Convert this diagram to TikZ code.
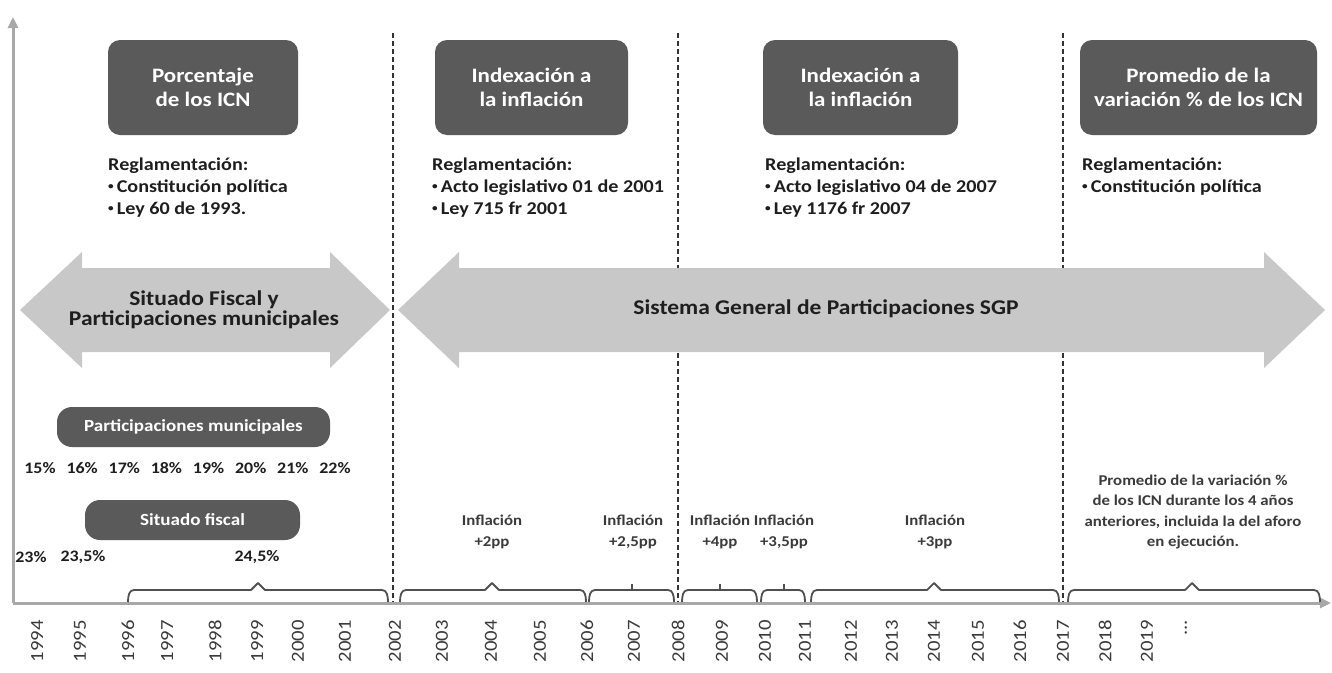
\documentclass[tikz,border=0pt]{standalone}
\usepackage{fontspec}
\setmainfont{Carlito}[FakeStretch=1.12]
\usetikzlibrary{arrows.meta}
\definecolor{boxgray}{HTML}{5A5A5A}
\definecolor{arrgray}{HTML}{C8C8C8}
\definecolor{axisgray}{HTML}{A8A8A8}
\definecolor{txt}{HTML}{1E1E1E}
\definecolor{midtxt}{HTML}{3A3A3A}
\definecolor{bracecol}{HTML}{505050}
\definecolor{dashcol}{HTML}{333333}
\newcommand\smbul{\raisebox{0.18em}{\fontsize{10}{10}\selectfont\textbullet}\,}
\newcommand\yrbrace[3]{%
  \draw[bracestyle] (#1,602) .. controls (#1,596) and (#1+1,590) .. (#1+6,590) -- (#2-7,590) -- (#2,583) -- (#2+7,590) -- (#3-6,590) .. controls (#3-1,590) and (#3,596) .. (#3,602);}
\newcommand\yrtick[3]{%
  \draw[bracestyle] (#1,602) .. controls (#1,596) and (#1+1,590) .. (#1+6,590) -- (#3-6,590) .. controls (#3-1,590) and (#3,596) .. (#3,602);
  \draw[bracestyle] (#2,590) -- (#2,584);}
\begin{document}
\begin{tikzpicture}[x=1pt,y=-1pt,
  darkbox/.style={fill=boxgray, rounded corners=12pt, text=white, font=\fontsize{20.5}{24}\selectfont\bfseries, align=center, minimum height=95pt, inner sep=0pt},
  pill/.style={fill=boxgray, rounded corners=15pt, text=white, font=\fontsize{17}{20}\selectfont\bfseries, minimum height=40pt, inner sep=0pt},
  regl/.style={anchor=north west, align=left, inner sep=0pt, text=txt, font=\fontsize{18}{22}\selectfont\bfseries},
  bigarrow/.style={fill=arrgray},
  arrowtext/.style={text=txt, align=center, inner sep=0pt, font=\fontsize{21}{20}\selectfont\bfseries},
  pct/.style={text=txt, inner sep=0pt, font=\fontsize{16}{18}\selectfont\bfseries},
  infl/.style={text=midtxt, align=center, inner sep=0pt, font=\fontsize{15}{20.5}\selectfont\bfseries},
  yearlbl/.style={text=midtxt, rotate=90, anchor=east, inner sep=0pt, font=\fontsize{18.5}{20}\selectfont},
  axisline/.style={draw=axisgray, line width=3pt, -{Triangle[length=11pt,width=10pt]}},
  divider/.style={draw=dashcol, line width=1.6pt, dash pattern=on 5pt off 3pt},
  bracestyle/.style={draw=bracecol, line width=1.8pt, line join=round}
]
\useasboundingbox (0,0) rectangle (1332,672);

% dividers
\foreach \x/\n in {393/a,678/b,1063/c}{
  \coordinate (dt\n) at (\x,33);
  \coordinate (db\n) at (\x,603);
  \draw[divider] (dt\n) -- (db\n);
}

% axes
\coordinate (orig) at (13,603);
\coordinate (ytop) at (13,17);
\coordinate (xend) at (1331,603);
\draw[axisline] (orig) -- (ytop);
\draw[axisline] (orig) -- (xend);

% top boxes
\node[darkbox, minimum width=190pt] (b1) at (203,87.5) {Porcentaje\\de los ICN};
\node[darkbox, minimum width=193pt] (b2) at (531.5,87.5) {Indexación a\\la inflación};
\node[darkbox, minimum width=195pt] (b3) at (860.5,87.5) {Indexación a\\la inflación};
\node[darkbox, minimum width=237pt] (b4) at (1198.5,87.5) {Promedio de la\\variación \% de los ICN};

% regulations
\node[regl] (r1) at (108,158) {Reglamentación:\\\smbul Constitución política\\\smbul Ley 60 de 1993.};
\node[regl] (r2) at (432,158) {Reglamentación:\\\smbul Acto legislativo 01 de 2001\\\smbul Ley 715 fr 2001};
\node[regl] (r3) at (765,158) {Reglamentación:\\\smbul Acto legislativo 04 de 2007\\\smbul Ley 1176 fr 2007};
\node[regl] (r4) at (1082,158) {Reglamentación:\\\smbul Constitución política};

% big double arrows
\fill[bigarrow] (20,310) -- (82,252) -- (82,268) -- (330,268) -- (330,252) -- (390,310) -- (330,368) -- (330,352) -- (82,352) -- (82,368) -- cycle;
\node[arrowtext] (sf) at (204,310) {Situado Fiscal y\\Participaciones municipales};
\fill[bigarrow] (398,310) -- (459,252) -- (459,268) -- (1264,268) -- (1264,252) -- (1325,310) -- (1264,368) -- (1264,352) -- (459,352) -- (459,368) -- cycle;
\node[arrowtext] (sgp) at (826,309) {Sistema General de Participaciones SGP};

% pills
\node[pill, minimum width=273pt] (pm) at (193.5,427) {Participaciones municipales};
\foreach \v [count=\i from 0] in {15,16,17,18,19,20,21,22}{
  \node[pct] (p\v) at ({40+\i*42.14},468) {\v\%};
}
\node[pill, minimum width=215pt] (sfp) at (192.5,520) {Situado fiscal};
\node[pct] (s1) at (31,557) {23\%};
\node[pct] (s2) at (83,557) {23,5\%};
\node[pct] (s3) at (257,557) {24,5\%};

% inflation labels
\node[infl] (i1) at (492,532) {Inflación\\+2pp};
\node[infl] (i2) at (633,532) {Inflación\\+2,5pp};
\node[infl] (i3) at (720,532) {Inflación\\+4pp};
\node[infl] (i4) at (784,532) {Inflación\\+3,5pp};
\node[infl] (i5) at (935,532) {Inflación\\+3pp};
\node[infl] (i6) at (1193,512) {Promedio de la variación \%\\de los ICN durante los 4 años\\anteriores, incluida la del aforo\\en ejecución.};

% braces
\yrbrace{128}{258}{388}
\yrbrace{400}{492}{586}
\yrtick{589}{632}{674}
\yrtick{682}{720}{757}
\yrtick{761}{784}{805}
\yrbrace{811}{934}{1059}
\yrbrace{1068}{1192}{1320}

% years
\foreach \yr/\x in {1994/37,1995/80,1996/128,1997/167,1998/215,1999/257,2000/298,2001/345,2002/395,2003/442,2004/491,2005/540,2006/587,2007/634,2008/678,2009/722,2010/765,2011/805,2012/851,2013/892,2014/934,2015/978,2016/1020,2017/1063,2018/1105,2019/1147}{
  \node[yearlbl] (y\yr) at (\x,620) {\yr};
}
\node[yearlbl] (ydots) at (1186,620) {...};
\end{tikzpicture}
\end{document}
